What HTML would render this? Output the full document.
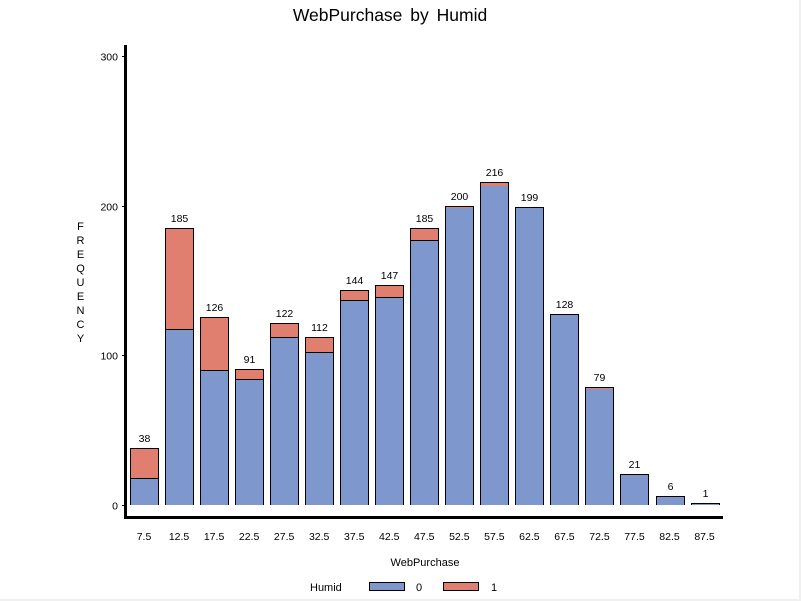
<!DOCTYPE html>
<html>
<head>
<meta charset="utf-8">
<title>WebPurchase by Humid</title>
<style>
html,body{margin:0;padding:0;background:#f0f0f0;}
body{width:801px;height:601px;overflow:hidden;position:relative;}
#plot{position:absolute;left:0;top:0;width:799px;height:599px;background:#fff;display:block;}
text{font-family:"Liberation Sans",sans-serif;fill:#000;}
rect,line,path{shape-rendering:crispEdges;}
</style>
</head>
<body>
<svg id="plot" width="799" height="599" viewBox="0 0 799 599" xmlns="http://www.w3.org/2000/svg">
<text x="390" y="21" text-anchor="middle" font-size="17.5" word-spacing="3">WebPurchase by Humid</text>
<g id="bars"></g>
<g id="yaxis"></g>
<g id="xaxis"></g>
<g font-size="11" text-anchor="middle">
<text x="80.5" y="230">F</text>
<text x="80.5" y="244">R</text>
<text x="80.5" y="258">E</text>
<text x="80.5" y="272">Q</text>
<text x="80.5" y="286">U</text>
<text x="80.5" y="300">E</text>
<text x="80.5" y="314">N</text>
<text x="80.5" y="328">C</text>
<text x="80.5" y="342">Y</text>
</g>
<text x="425" y="566" text-anchor="middle" font-size="11">WebPurchase</text>
<g font-size="11">
<text x="310" y="591">Humid</text>
<rect x="369.5" y="582.5" width="35" height="8" fill="#7e98ce" stroke="#000" stroke-width="1"></rect>
<text x="416" y="591">0</text>
<rect x="443.5" y="582.5" width="35" height="8" fill="#e07f70" stroke="#000" stroke-width="1"></rect>
<text x="491" y="591">1</text>
</g>
</svg>
<script>
const categories = ["7.5","12.5","17.5","22.5","27.5","32.5","37.5","42.5","47.5","52.5","57.5","62.5","67.5","72.5","77.5","82.5","87.5"];
const humid0 = [18,118,90,84,112,102,137,139,177,199,214,199,128,78,21,6,1];
const humid1 = [20,67,36,7,10,10,7,8,8,1,2,0,0,1,0,0,0];
const yTicks = [0,100,200,300];

const NS = "http://www.w3.org/2000/svg";
const C0 = "#7e98ce", C1 = "#e07f70";
const BAR_W = 28;
const BASE_Y = 505;
function xScale(i){ return 144.5 + i * 35.035; }
function yScale(v){ return Math.round(504.92 - v * 1.495); }
function make(tag, attrs, parent, txt){
  const el = document.createElementNS(NS, tag);
  for (const k in attrs) el.setAttribute(k, attrs[k]);
  if (txt !== undefined) el.textContent = txt;
  parent.appendChild(el);
  return el;
}
const barsG = document.getElementById("bars");
const xG = document.getElementById("xaxis");
const yG = document.getElementById("yaxis");

categories.forEach(function(cat, i){
  const left = Math.floor(xScale(i) - BAR_W / 2);
  const a = humid0[i], b = humid1[i];
  const topY = yScale(a + b);
  const midY = yScale(a);

  const seg0 = make("rect", {x:left, y:topY, width:BAR_W, height:BASE_Y - topY, fill:C0}, barsG);
  
  

  if (b > 0) {
    const seg1 = make("rect", {x:left, y:topY, width:BAR_W, height:midY - topY + 1, fill:C1}, barsG);
    
    
  }
  if (b >= 5) {
    const sep = make("line", {x1:left, x2:left + BAR_W + 1, y1:midY + 0.5, y2:midY + 0.5, stroke:"#000", "stroke-width":1}, barsG);
    
    
  }
  const outline = make("path", {d:"M" + (left + 0.5) + " " + BASE_Y + "V" + (topY + 0.5) + "H" + (left + BAR_W + 0.5) + "V" + BASE_Y, fill:"none", stroke:"#000", "stroke-width":1}, barsG);
  
  

  const total = make("text", {x:left + 14.5, y:topY - 6, "text-anchor":"middle", "font-size":10.5}, barsG, String(a + b));
  
  

  const tick = make("text", {x:xScale(i) - 0.5, y:540, "text-anchor":"middle", "font-size":10.5}, xG, cat);
  
  
});

yTicks.forEach(function(t){
  const yy = yScale(t) + 0.5;
  const line = make("line", {x1:122, x2:124, y1:yy, y2:yy, stroke:"#000", "stroke-width":1}, yG);
  
  
  const lab = make("text", {x:118, y:yy + 4, "text-anchor":"end", "font-size":10.5}, yG, String(t));
  
  
});

const yLine = make("rect", {x:124, y:45, width:3, height:474, fill:"#000"}, yG);


const xLine = make("rect", {x:124, y:516, width:599, height:3, fill:"#000"}, xG);


</script>
</body>
</html>
